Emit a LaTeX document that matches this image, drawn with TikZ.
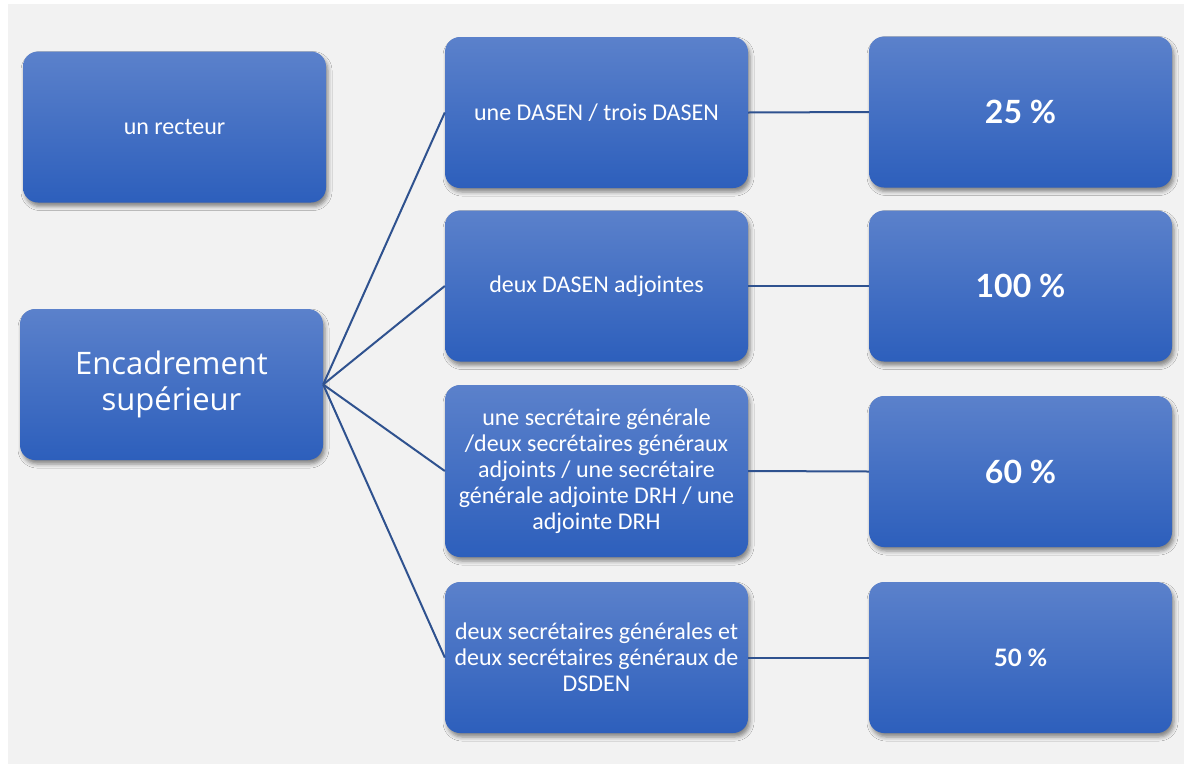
\documentclass[tikz,border=0pt]{standalone}
\usepackage{fontspec}
\setmainfont{Carlito}
\newfontfamily\titrefont{Open Sans}
\newfontfamily\pctfont{Lato}
\usetikzlibrary{shadows.blur}
\definecolor{fond}{HTML}{F2F2F2}
\definecolor{haut}{HTML}{5B81CB}
\definecolor{bas}{HTML}{2D5FBC}
\definecolor{trait}{HTML}{2F528F}
\tikzset{
  bloc/.style={rectangle, rounded corners=15pt, top color=haut, bottom color=bas,
    text=white, minimum width=303pt, minimum height=151pt, inner sep=4pt,
    align=center, font=\fontsize{24}{26}\selectfont,
    blur shadow={shadow xshift=2pt, shadow yshift=-4pt, shadow blur radius=4pt, shadow opacity=45}},
  pct/.style={font=\pctfont\bfseries\fontsize{32}{36}\selectfont},
  lien/.style={trait, line width=2pt},
}
\begin{document}
\begin{tikzpicture}[x=1pt,y=-1pt]
    \fill[white] (0,0) rectangle (1184,764);
    \fill[fond] (8,4) rectangle (1184,764);
    % colonne de gauche
    \node[bloc] (recteur) at (174.5,127) {un recteur};
    \node[bloc, font=\titrefont\fontsize{31}{36}\selectfont] (enc) at (171.5,384.5) {Encadrement\\supérieur};
    % colonne du milieu
    \node[bloc] (m1) at (596.5,112.5) {une DASEN / trois DASEN};
    \node[bloc] (m2) at (596.5,286) {deux DASEN adjointes};
    \node[bloc, minimum height=172pt] (m3) at (596.5,471) {une secrétaire générale\\/deux secrétaires généraux\\adjoints / une secrétaire\\générale adjointe DRH / une\\adjointe DRH};
    \node[bloc] (m4) at (596.5,657.5) {deux secrétaires générales et\\deux secrétaires généraux de\\DSDEN};
    % colonne de droite
    \node[bloc, pct] (p1) at (1020.5,112) {25 \%};
    \node[bloc, pct] (p2) at (1020.5,286) {100 \%};
    \node[bloc, pct] (p3) at (1020.5,471.5) {60 \%};
    \node[bloc, pct, font=\pctfont\bfseries\fontsize{24}{28}\selectfont] (p4) at (1020.5,657.5) {50 \%};
    % liens
    \foreach \m in {m1,m2,m3,m4}
        \draw[lien] (enc.east) -- (\m.west);
    \foreach \m/\p in {m1/p1,m2/p2,m3/p3,m4/p4}
        \draw[lien] (\m.east) -- (\p.west);
\end{tikzpicture}
\end{document}
